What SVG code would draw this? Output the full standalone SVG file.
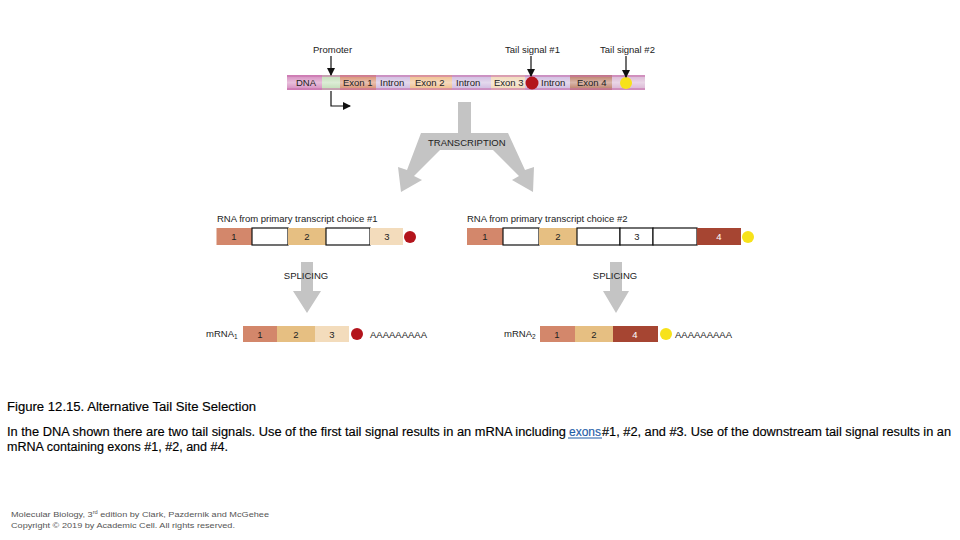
<svg xmlns="http://www.w3.org/2000/svg" width="960" height="540" viewBox="0 0 960 540">
<defs>
<linearGradient id="shine" x1="0" y1="0" x2="0" y2="1">
<stop offset="0" stop-color="#fff" stop-opacity="0"/>
<stop offset="0.5" stop-color="#fff" stop-opacity="0.45"/>
<stop offset="1" stop-color="#fff" stop-opacity="0"/>
</linearGradient>
<marker id="ah" markerWidth="8" markerHeight="8" refX="7" refY="4" orient="auto" markerUnits="userSpaceOnUse">
<path d="M0,0 L8,4 L0,8 Z" fill="#111"/>
</marker>
</defs>
<style>
.lbl{font-family:"Liberation Sans",Arial,sans-serif;font-size:9.5px;fill:#222}
.num{font-family:"Liberation Sans",Arial,sans-serif;font-size:9.5px;fill:#222;text-anchor:middle}
.wnum{font-family:"Liberation Sans",Arial,sans-serif;font-size:9.5px;fill:#fff;text-anchor:middle}
.open{fill:#fff;stroke:#111;stroke-width:1.2}
.e1{fill:#d3876b}.e2{fill:#e6bf82}.e3{fill:#f3dcbc}.e4{fill:#a64532}
.red{fill:#b3141c}.yel{fill:#f7e21a}
.gray{fill:#c4c4c4}
.cap{font-family:"Liberation Sans",Arial,sans-serif;font-size:12px;fill:#000;stroke:#000;stroke-width:0.15}
.foot{font-family:"Liberation Sans",Arial,sans-serif;font-size:8px;fill:#555}
</style>
<rect width="960" height="540" fill="#fff"/>

<g id="dna">
<rect x="287" y="75" width="35" height="15" fill="#d489bd"/>
<rect x="322" y="75" width="18" height="15" fill="#bfdcb4"/>
<rect x="340" y="75" width="36" height="15" fill="#d68a6a"/>
<rect x="376" y="75" width="34" height="15" fill="#cdb8de"/>
<rect x="410" y="75" width="42" height="15" fill="#eebb86"/>
<rect x="452" y="75" width="39" height="15" fill="#cdb8de"/>
<rect x="491" y="75" width="34" height="15" fill="#f0d6b4"/>
<rect x="525" y="75" width="45" height="15" fill="#cdb8de"/>
<rect x="570" y="75" width="42" height="15" fill="#b97a63"/>
<rect x="612" y="75" width="33" height="15" fill="#d8b3d2"/>
<rect x="287" y="75" width="358" height="15" fill="url(#shine)"/>
<rect x="287" y="75" width="358" height="2" fill="#c96fab" opacity="0.55"/>
<rect x="287" y="88" width="358" height="2" fill="#c96fab" opacity="0.55"/>
<text class="lbl" x="296" y="86">DNA</text>
<text class="lbl" x="343" y="86">Exon 1</text>
<text class="lbl" x="380" y="86">Intron</text>
<text class="lbl" x="415" y="86">Exon 2</text>
<text class="lbl" x="456" y="86">Intron</text>
<text class="lbl" x="494" y="86">Exon 3</text>
<text class="lbl" x="541" y="86">Intron</text>
<text class="lbl" x="577" y="86">Exon 4</text>
<circle class="red" cx="532" cy="83" r="6.5"/>
<circle class="yel" cx="626" cy="83" r="6"/>
</g>

<g id="labels-top">
<text class="lbl" x="313" y="53">Promoter</text>
<text class="lbl" x="505" y="53">Tail signal #1</text>
<text class="lbl" x="600" y="53">Tail signal #2</text>
</g>

<g id="rna1">
<text class="lbl" x="217" y="222">RNA from primary transcript choice #1</text>
<rect class="e1" x="216.5" y="228" width="35.5" height="17"/>
<rect class="open" x="252" y="228" width="36" height="17"/>
<rect class="e2" x="288" y="228" width="38" height="17"/>
<rect class="open" x="326" y="228" width="44" height="17"/>
<rect class="e3" x="370" y="228" width="33" height="17"/>
<text class="num" x="234" y="240">1</text>
<text class="num" x="307" y="240">2</text>
<text class="num" x="387" y="240">3</text>
<circle class="red" cx="410" cy="237" r="6"/>
</g>

<g id="rna2">
<text class="lbl" x="467" y="222">RNA from primary transcript choice #2</text>
<rect class="e1" x="467" y="228" width="36" height="17"/>
<rect class="open" x="503" y="228" width="36" height="17"/>
<rect class="e2" x="539" y="228" width="38" height="17"/>
<rect class="open" x="577" y="228" width="43" height="17"/>
<rect class="open" x="620" y="228" width="33" height="17"/>
<rect class="open" x="653" y="228" width="44" height="17"/>
<rect class="e4" x="697" y="228" width="44" height="17"/>
<text class="num" x="485" y="240">1</text>
<text class="num" x="558" y="240">2</text>
<text class="num" x="637" y="240">3</text>
<text class="wnum" x="719" y="240">4</text>
<circle class="yel" cx="748" cy="237" r="6"/>
</g>

<g id="mrna1">
<text class="lbl" x="206" y="337">mRNA<tspan font-size="6.5" dy="2">1</tspan></text>
<rect class="e1" x="243" y="326" width="34" height="16"/>
<rect class="e2" x="277" y="326" width="38" height="16"/>
<rect class="e3" x="315" y="326" width="34" height="16"/>
<text class="num" x="260" y="337.5">1</text>
<text class="num" x="296" y="337.5">2</text>
<text class="num" x="332" y="337.5">3</text>
<circle class="red" cx="357" cy="334" r="6"/>
<text class="lbl" x="370" y="337.5">AAAAAAAAA</text>
</g>

<g id="mrna2">
<text class="lbl" x="504" y="337">mRNA<tspan font-size="6.5" dy="2">2</tspan></text>
<rect class="e1" x="540" y="326" width="35" height="16"/>
<rect class="e2" x="575" y="326" width="38" height="16"/>
<rect class="e4" x="613" y="326" width="45" height="16"/>
<text class="num" x="557" y="337.5">1</text>
<text class="num" x="594" y="337.5">2</text>
<text class="wnum" x="635" y="337.5">4</text>
<circle class="yel" cx="666" cy="334" r="6"/>
<text class="lbl" x="675" y="337.5">AAAAAAAAA</text>
</g>

<g id="connectors">
<line x1="331" y1="56" x2="331" y2="75" stroke="#111" stroke-width="1.2" marker-end="url(#ah)"/>
<line x1="531" y1="56" x2="531" y2="76" stroke="#111" stroke-width="1.2" marker-end="url(#ah)"/>
<line x1="626" y1="56" x2="626" y2="77" stroke="#111" stroke-width="1.2" marker-end="url(#ah)"/>
<path d="M331,91 V106 H350" fill="none" stroke="#111" stroke-width="1.2" marker-end="url(#ah)"/>
<g id="transcription-arrow">
<path class="gray" d="M458,102 H471 V133 H508 L525,170 L534,167 L533,192 L512,180 L519,176 L493,150 H440 L414,176 L422,180 L401,192 L398,167 L407,170 L421,133 H458 Z"/>
<text class="lbl" x="428" y="146" font-size="9.2">TRANSCRIPTION</text>
</g>
<g id="splice1">
<path class="gray" d="M301,262 H313 V291 H321 L307,313 L293,291 H301 Z"/>
<text class="lbl" x="306" y="279" text-anchor="middle">SPLICING</text>
</g>
<g id="splice2">
<path class="gray" d="M610,262 H622 V291 H629 L616,313 L603,291 H610 Z"/>
<text class="lbl" x="615" y="279" text-anchor="middle">SPLICING</text>
</g>
</g>

<g id="caption">
<text class="cap" x="7" y="411" textLength="249" lengthAdjust="spacingAndGlyphs">Figure 12.15. Alternative Tail Site Selection</text>
<text class="cap" x="7" y="436" textLength="559" lengthAdjust="spacingAndGlyphs">In the DNA shown there are two tail signals. Use of the first tail signal results in an mRNA including</text>
<text class="cap" x="569" y="436" textLength="32" lengthAdjust="spacingAndGlyphs" style="fill:#1f5ea8;stroke:#1f5ea8">exons</text>
<line x1="568" y1="438" x2="602" y2="438" stroke="#1f5ea8" stroke-width="1"/>
<text class="cap" x="602" y="436" textLength="349" lengthAdjust="spacingAndGlyphs">#1, #2, and #3. Use of the downstream tail signal results in an</text>
<text class="cap" x="7" y="451" textLength="221" lengthAdjust="spacingAndGlyphs">mRNA containing exons #1, #2, and #4.</text>
</g>

<g id="footer">
<text class="foot" x="11" y="517" textLength="258" lengthAdjust="spacingAndGlyphs">Molecular Biology, 3<tspan font-size="5" dy="-3">rd</tspan><tspan dy="3"> edition by Clark, Pazdernik and  McGehee</tspan></text>
<text class="foot" x="11" y="528" textLength="224" lengthAdjust="spacingAndGlyphs">Copyright © 2019 by Academic Cell. All rights reserved.</text>
</g>
</svg>
